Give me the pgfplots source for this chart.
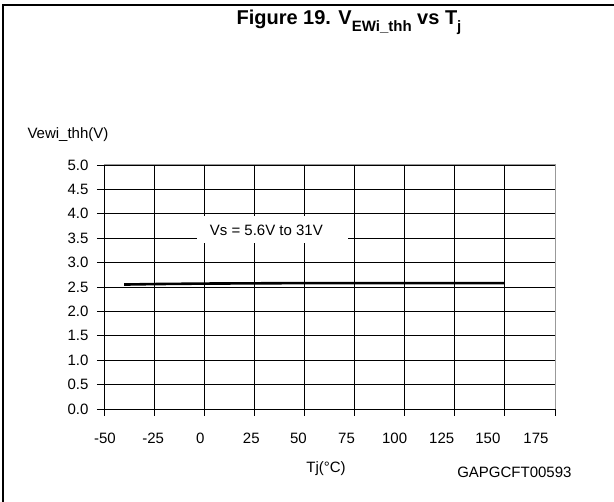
\documentclass[border=0pt]{standalone}
\usepackage{pgfplots}
\pgfplotsset{compat=1.18}
\usepackage{fontspec}
\setmainfont{Liberation Sans}
\begin{document}
\begin{tikzpicture}[x=1pt,y=1pt]
\path[use as bounding box] (0,0) rectangle (614,502);
% frame
\draw[line width=2pt] (3,0) -- (3,497) -- (614,497);
% title
\node[font=\fontsize{20}{24}\selectfont\bfseries] at (349,480)
  {Figure 19. V\raisebox{-0.35em}{\fontsize{15}{15}\selectfont EWi\_thh} vs T\raisebox{-0.35em}{\fontsize{15}{15}\selectfont j}};
\node[anchor=west,font=\fontsize{15}{17}\selectfont] at (24,367) {Vewi\_thh(V)};
\node[font=\fontsize{15}{17}\selectfont] at (326,33) {Tj(°C)};
\node[anchor=east,font=\fontsize{15}{17}\selectfont] at (575,30) {GAPGCFT00593};
\begin{axis}[
  at={(104pt,93pt)}, anchor=south west,
  scale only axis, width=451pt, height=244pt,
  xmin=-50, xmax=175, ymin=0, ymax=5,
  axis x line*=bottom, axis y line*=left,
  xtick={-50,-25,...,175}, xticklabels={},
  ytick={0,0.5,...,5},
  yticklabel style={xshift=-5pt,/pgf/number format/.cd,fixed,fixed zerofill,precision=1},
  extra x ticks={-49.5,-25.5,-2,23.5,47,71,95,118.5,141.5,165.5},
  extra x tick labels={-50,-25,0,25,50,75,100,125,150,175},
  extra x tick style={grid=none, major tick length=0pt,
    tick label style={yshift=-21pt}},
  tick align=outside, major tick length=7pt,
  tick style={black, line width=0.8pt},
  grid=major, major grid style={black, line width=0.8pt},
  axis line style={black, line width=0.8pt},
  tick label style={font=\fontsize{15}{17}\selectfont},
  /pgf/number format/assume math mode=true,
  clip=false,
]
\addplot[black, line width=2.6pt] coordinates {
  (-40,2.55) (-25,2.56) (0,2.57) (25,2.575) (50,2.58) (75,2.58) (100,2.58) (125,2.58) (150,2.58)
};
\draw[gray!80, line width=1pt] (rel axis cs:0,1) -- (rel axis cs:1,1) -- (rel axis cs:1,0);
\fill[white] (axis cs:-3.5,3.40) rectangle (axis cs:71.5,3.96);
\node[font=\fontsize{15}{17}\selectfont] at (axis cs:31,3.67) {Vs = 5.6V to 31V};
\end{axis}
\end{tikzpicture}
\end{document}
